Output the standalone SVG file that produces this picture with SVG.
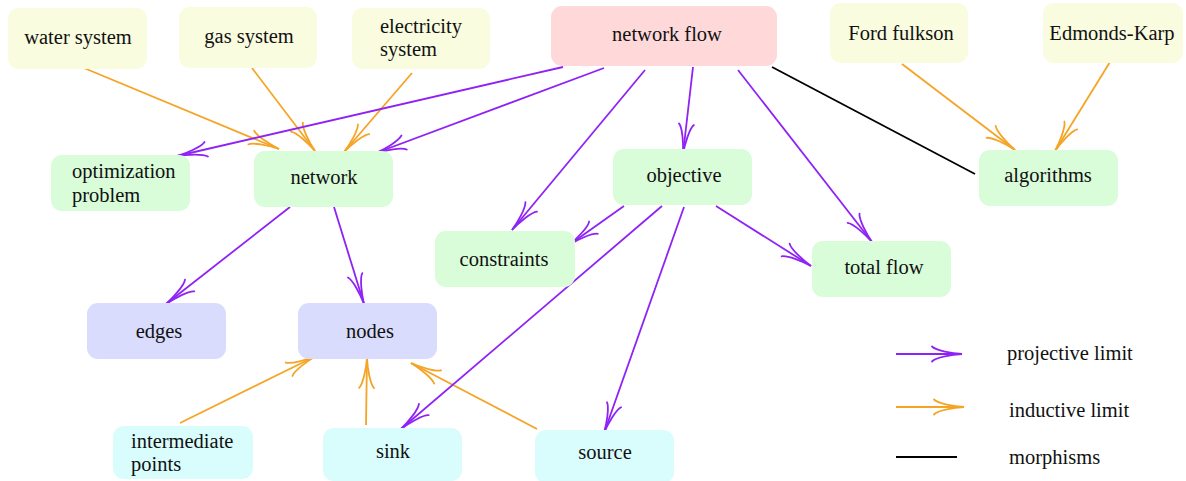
<svg xmlns="http://www.w3.org/2000/svg" width="1186" height="481" viewBox="0 0 1186 481" font-family="Liberation Serif, Times New Roman, serif">
<style>
  .n rect { stroke: none; }
  .y rect { fill: #f9fcdf; }
  .p rect { fill: #ffd9da; }
  .g rect { fill: #d9fcd9; }
  .b rect { fill: #d9dcfc; }
  .c rect { fill: #d9fdfd; }
  text { font-size: 20.5px; fill: #111; }
  .m { text-anchor: middle; }
  .pl { stroke: #8f22f5; stroke-width: 1.8; fill: none; marker-end: url(#ap); }
  .ol { stroke: #f5a425; stroke-width: 1.8; fill: none; marker-end: url(#ao); }
  .bl { stroke: #000; stroke-width: 1.8; fill: none; }
</style>
<defs>
  <marker id="ap" viewBox="-33 -10 35 20" refX="0" refY="0" markerWidth="35" markerHeight="20" markerUnits="userSpaceOnUse" orient="auto">
    <path d="M -30,-7.5 C -26,-3.5 -10,-0.6 0,0 C -10,0.6 -26,3.5 -30,7.5" fill="none" stroke="#8f22f5" stroke-width="1.8" stroke-linecap="round"/>
  </marker>
  <marker id="ao" viewBox="-33 -10 35 20" refX="0" refY="0" markerWidth="35" markerHeight="20" markerUnits="userSpaceOnUse" orient="auto">
    <path d="M -30,-7.5 C -26,-3.5 -10,-0.6 0,0 C -10,0.6 -26,3.5 -30,7.5" fill="none" stroke="#f5a425" stroke-width="1.8" stroke-linecap="round"/>
  </marker>
</defs>

<g id="connectors">
  <line class="ol" x1="84" y1="68" x2="279" y2="149"/>
  <line class="ol" x1="252" y1="68" x2="315" y2="151"/>
  <line class="ol" x1="412" y1="73" x2="344" y2="152"/>
  <line class="ol" x1="902" y1="64" x2="1015" y2="150"/>
  <line class="ol" x1="1110" y1="62" x2="1055" y2="151"/>
  <line class="ol" x1="180" y1="423" x2="316" y2="356"/>
  <line class="ol" x1="366" y1="425" x2="367" y2="358"/>
  <line class="ol" x1="537" y1="429" x2="411" y2="363"/>

  <line class="pl" x1="563" y1="67" x2="177" y2="156"/>
  <line class="pl" x1="604" y1="68" x2="376" y2="153"/>
  <line class="pl" x1="645" y1="70" x2="512" y2="230"/>
  <line class="pl" x1="693" y1="67" x2="683" y2="154"/>
  <line class="pl" x1="738" y1="70" x2="872" y2="242"/>
  <line class="pl" x1="290" y1="207" x2="166" y2="304"/>
  <line class="pl" x1="334" y1="207" x2="364" y2="304"/>
  <line class="pl" x1="624" y1="206" x2="569" y2="245"/>
  <line class="pl" x1="662" y1="206" x2="401" y2="429"/>
  <line class="pl" x1="684" y1="207" x2="604" y2="433"/>
  <line class="pl" x1="716" y1="206" x2="811" y2="266"/>

  <line class="bl" x1="772" y1="67" x2="975" y2="174"/>
</g>

<g id="water-system" class="n y"><rect x="8" y="8" width="139" height="61" rx="11"/><text class="m" x="78" y="44">water system</text></g>
<g id="gas-system" class="n y"><rect x="179" y="7" width="138" height="61" rx="11"/><text class="m" x="249" y="43">gas system</text></g>
<g id="electricity-system" class="n y"><rect x="352" y="8" width="138" height="61" rx="11"/><text x="380" y="33">electricity</text><text x="380" y="56">system</text></g>
<g id="network-flow" class="n p"><rect x="551" y="6" width="226" height="60" rx="11"/><text class="m" x="667" y="41">network flow</text></g>
<g id="ford-fulkson" class="n y"><rect x="830" y="3" width="138" height="60" rx="11"/><text class="m" x="901" y="40">Ford fulkson</text></g>
<g id="edmonds-karp" class="n y"><rect x="1043" y="3" width="140" height="60" rx="11"/><text class="m" x="1112" y="40">Edmonds-Karp</text></g>
<g id="optimization-problem" class="n g"><rect x="51" y="155" width="139" height="56" rx="11"/><text x="72" y="178">optimization</text><text x="72" y="202">problem</text></g>
<g id="network" class="n g"><rect x="254" y="151" width="139" height="56" rx="11"/><text class="m" x="324" y="184">network</text></g>
<g id="objective" class="n g"><rect x="613" y="149" width="139" height="56" rx="11"/><text class="m" x="684" y="182">objective</text></g>
<g id="algorithms" class="n g"><rect x="979" y="150" width="139" height="56" rx="11"/><text class="m" x="1048" y="182">algorithms</text></g>
<g id="constraints" class="n g"><rect x="435" y="231" width="140" height="56" rx="11"/><text class="m" x="504" y="266">constraints</text></g>
<g id="total-flow" class="n g"><rect x="812" y="241" width="139" height="56" rx="11"/><text class="m" x="884" y="274">total flow</text></g>
<g id="edges" class="n b"><rect x="87" y="303" width="139" height="56" rx="11"/><text class="m" x="159" y="338">edges</text></g>
<g id="nodes" class="n b"><rect x="298" y="303" width="139" height="56" rx="11"/><text class="m" x="370" y="338">nodes</text></g>
<g id="intermediate-points" class="n c"><rect x="113" y="426" width="140" height="53" rx="11"/><text x="131" y="448">intermediate</text><text x="131" y="471">points</text></g>
<g id="sink" class="n c"><rect x="323" y="428" width="139" height="53" rx="11"/><text class="m" x="393" y="458">sink</text></g>
<g id="source" class="n c"><rect x="535" y="430" width="139" height="53" rx="11"/><text class="m" x="605" y="459">source</text></g>

<g id="legend">
  <line class="pl" x1="896" y1="354" x2="962" y2="354"/>
  <text x="1007" y="360">projective limit</text>
  <line class="ol" x1="896" y1="407" x2="964" y2="407"/>
  <text x="1009" y="417">inductive limit</text>
  <line class="bl" x1="896" y1="457" x2="957" y2="457"/>
  <text x="1009" y="464">morphisms</text>
</g>
</svg>
